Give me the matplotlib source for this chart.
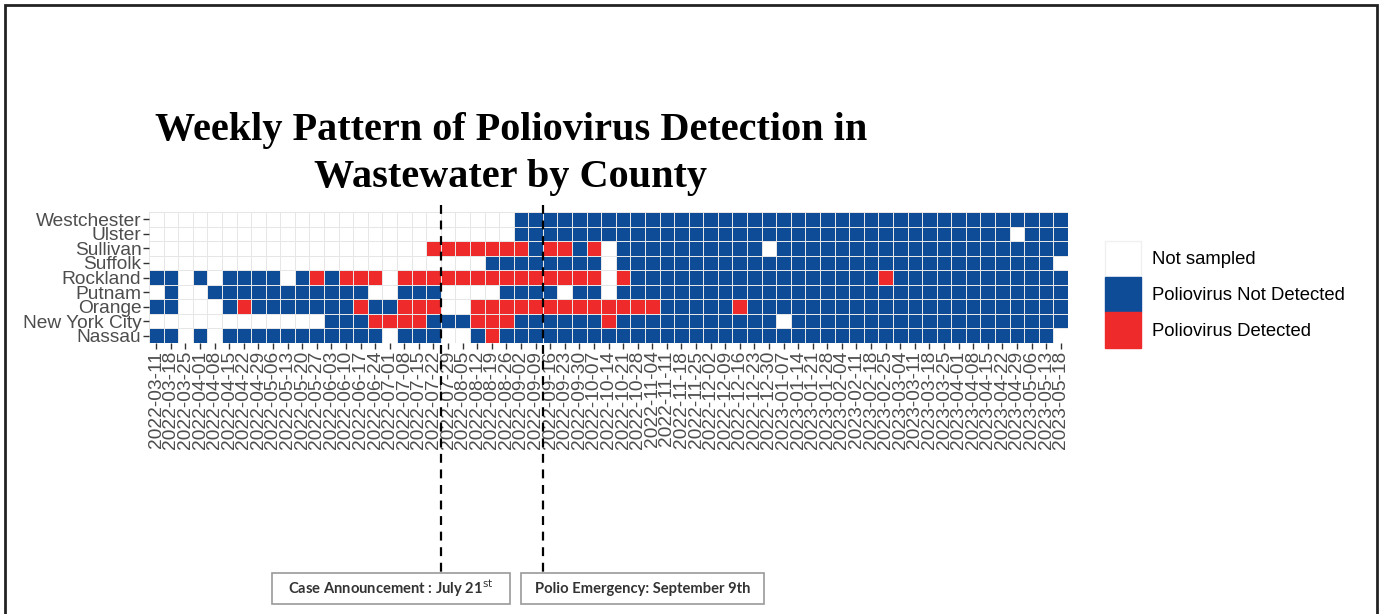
import matplotlib
matplotlib.use("Agg")
import matplotlib.pyplot as plt
import matplotlib.transforms as mtransforms
from matplotlib.colors import ListedColormap
from matplotlib.patches import Patch, Rectangle
import numpy as np

# counties, top to bottom
counties = ["Westchester", "Ulster", "Sullivan", "Suffolk", "Rockland",
            "Putnam", "Orange", "New York City", "Nassau"]

# sampling weeks (x axis)
weeks = [
    "2022-03-11", "2022-03-18", "2022-03-25", "2022-04-01", "2022-04-08",
    "2022-04-15", "2022-04-22", "2022-04-29", "2022-05-06", "2022-05-13",
    "2022-05-20", "2022-05-27", "2022-06-03", "2022-06-10", "2022-06-17",
    "2022-06-24", "2022-07-01", "2022-07-08", "2022-07-15", "2022-07-22",
    "2022-07-29", "2022-08-05", "2022-08-12", "2022-08-19", "2022-08-26",
    "2022-09-02", "2022-09-09", "2022-09-16", "2022-09-23", "2022-09-30",
    "2022-10-07", "2022-10-14", "2022-10-21", "2022-10-28", "2022-11-04",
    "2022-11-11", "2022-11-18", "2022-11-25", "2022-12-02", "2022-12-09",
    "2022-12-16", "2022-12-23", "2022-12-30", "2023-01-07", "2023-01-14",
    "2023-01-21", "2023-01-28", "2023-02-04", "2023-02-11", "2023-02-18",
    "2023-02-25", "2023-03-04", "2023-03-11", "2023-03-18", "2023-03-25",
    "2023-04-01", "2023-04-08", "2023-04-15", "2023-04-22", "2023-04-29",
    "2023-05-06", "2023-05-13", "2023-05-18",
]

# weekly status per county, groups of 10 weeks
# W = not sampled, B = not detected, R = detected
westchester = "WWWWWWWWWW WWWWWWWWWW WWWWWBBBBB BBBBBBBBBB BBBBBBBBBB BBBBBBBBBB BBB"
ulster      = "WWWWWWWWWW WWWWWWWWWW WWWWWBBBBB BBBBBBBBBB BBBBBBBBBB BBBBBBBBBW BBB"
sullivan    = "WWWWWWWWWW WWWWWWWWWR RRRRRRBRRB RWBBBBBBBB BBWBBBBBBB BBBBBBBBBB BBB"
suffolk     = "WWWWWWWWWW WWWWWWWWWW WWWBBBBBBB BWBBBBBBBB BBBBBBBBBB BBBBBBBBBB BBW"
rockland    = "BBWBWBBBBW BRBRRRWRRR RRRRRRRRRR RWRBBBBBBB BBBBBBBBBB RBBBBBBBBB BBB"
putnam      = "WBWWBBBBBB BBBBBWWBBB WWWWBBBBWB BWBBBBBBBB BBBBBBBBBB BBBBBBBBBB BBB"
orange      = "BBWWWBRBBB BBBBRBBRRR WWRRRRRRRR RRRRRBBBBB RBBBBBBBBB BBBBBBBBBB BBB"
nyc         = "WWWWWWWWWW WWBBBRRRRB BBRRRBBBBB BRBBBBBBBB BBBWBBBBBB BBBBBBBBBB BBB"
nassau      = "BBWBWBBBBB BBBBBBWBBB WWBRBBBBBB BBBBBBBBBB BBBBBBBBBB BBBBBBBBBB BBW"

status_codes = ["W", "B", "R"]
status_labels = ["Not sampled", "Poliovirus Not Detected", "Poliovirus Detected"]
status_colors = ["#FFFFFF", "#0F4C97", "#EE2A2A"]

# events: dashed line drawn after these weeks
event_weeks = ["2022-07-22", "2022-09-09"]
event_labels = ["Case Announcement : July 21$^{\\mathsf{st}}$",
                "Polio Emergency: September 9th"]

rows = [westchester, ulster, sullivan, suffolk, rockland, putnam, orange, nyc, nassau]
grid = np.array([[status_codes.index(c) for c in r.replace(" ", "")] for r in rows])

W, H = 1382, 614
fig = plt.figure(figsize=(W / 100, H / 100), dpi=100)
fig.patch.set_facecolor("white")

# heatmap area
ax = fig.add_axes([149 / W, 1 - 343 / H, (1068 - 149) / W, (343 - 212) / H])
cmap = ListedColormap(status_colors)
ax.pcolormesh(np.arange(len(weeks) + 1) - 0.5, np.arange(len(counties) + 1) - 0.5, grid,
              cmap=cmap, vmin=-0.5, vmax=2.5, edgecolors="#e6e6e6", linewidth=0.5)
ax.set_xlim(-0.5, len(weeks) - 0.5)
ax.set_ylim(len(counties) - 0.5, -0.5)
for s in ax.spines.values():
    s.set_visible(False)

ax.set_xticks(range(len(weeks)))
ax.set_xticklabels(weeks, rotation=90, fontsize=13.8, family="Liberation Sans")
ax.set_yticks(range(len(counties)))
ax.set_yticklabels(counties, fontsize=13.8, family="Liberation Sans")
ax.tick_params(axis="both", colors="#333333", labelcolor="#4D4D4D", length=4, width=1, pad=1.5)

# dashed event lines, running down to the boxes
trans = mtransforms.blended_transform_factory(ax.transData, ax.transAxes)
for ev in event_weeks:
    xpos = weeks.index(ev) + 0.5
    ax.plot([xpos, xpos], [1.05, (343 - 572) / (343 - 212)], transform=trans,
            color="black", linestyle=(0, (4, 3)), linewidth=1.6, clip_on=False, zorder=5)

# event boxes
boxes = [(272, 573, 510, 604), (521, 573, 764, 604)]
for (x0, y0, x1, y1), lab in zip(boxes, event_labels):
    fig.patches.append(Rectangle((x0 / W, 1 - y1 / H), (x1 - x0) / W, (y1 - y0) / H,
                                 transform=fig.transFigure, facecolor="white",
                                 edgecolor="#9a9a9a", linewidth=1.2))
    fig.text((x0 + x1) / 2 / W, 1 - (y0 + y1) / 2 / H, lab, ha="center", va="center",
             fontsize=10.6, fontweight="bold", family="Lato", color="#333333")

# title
fig.text(511 / W, 1 - 154 / H, "Weekly Pattern of Poliovirus Detection in\nWastewater by County",
         ha="center", va="center", multialignment="center", fontsize=29,
         fontweight="bold", family="Liberation Serif", linespacing=1.38)

# legend
handles = [Patch(facecolor=c, edgecolor="#f0f0f0" if c == "#FFFFFF" else c) for c in status_colors]
fig.legend(handles, status_labels, loc="upper left", bbox_to_anchor=(1092 / W, 1 - 228 / H),
           frameon=False, prop={"family": "Liberation Sans", "size": 13.3},
           handlelength=1.95, handleheight=2.6, labelspacing=0.0, handletextpad=0.6,
           borderpad=0.2)

# outer frame
fig.patches.append(Rectangle((5 / W, -0.05), 1372 / W, 1.05 - 5 / H, transform=fig.transFigure,
                             fill=False, edgecolor="#222222", linewidth=2))

fig.savefig("out.png", dpi=100)
